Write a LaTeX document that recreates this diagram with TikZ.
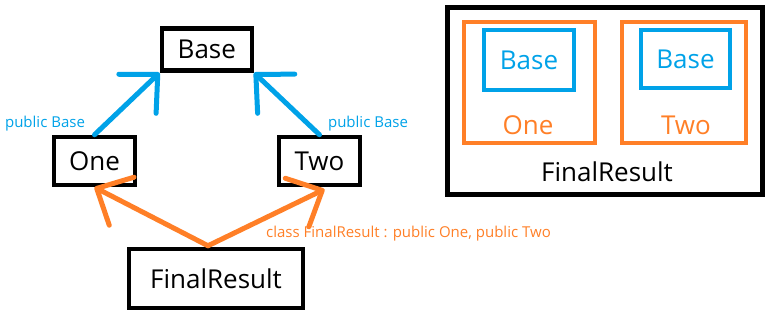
\documentclass[tikz,border=0pt]{standalone}
\usepackage{fontspec}
\setmainfont{Open Sans}
\usepackage{tikz}
\usepackage{xcolor}
\usetikzlibrary{arrows.meta, calc}

\definecolor{paintblue}{HTML}{00A2E8}
\definecolor{paintorange}{HTML}{FF7F27}

\newcommand{\bigtext}{\fontsize{26}{30}\selectfont}
\newcommand{\smalltext}{\fontsize{15}{18}\selectfont}

\begin{document}
\begin{tikzpicture}[x=1pt, y=-1pt, >={Straight Barb[length=28pt, width=54pt, round]},
    box/.style={draw, line width=4.5pt, inner sep=0pt, font=\bigtext},
    inherit/.style={->, line width=5pt, line cap=round}]
    \useasboundingbox (0,0) rectangle (771,316);

    % Class boxes
    \node[box, minimum width=90pt, minimum height=42pt] (base) at (206.8,49.5) {Base};
    \node[box, minimum width=81pt, minimum height=48pt] (one) at (94.5,161) {One};
    \node[box, minimum width=81pt, minimum height=48pt] (two) at (319.5,161) {Two};
    \node[box, minimum width=174pt, minimum height=59pt] (final) at (216,278.5) {FinalResult};

    % Inheritance from Base
    \draw[inherit, paintblue] (one.north) -- (base.south west);
    \draw[inherit, paintblue] (two.north) -- (base.south east);
    \node[text=paintblue, font=\smalltext, inner sep=0pt] (lblone) at (45,124) {public Base};
    \node[text=paintblue, font=\smalltext, inner sep=0pt] (lbltwo) at (368,124) {public Base};

    % Inheritance from One and Two
    \coordinate (fork) at ($(final.north)+(-8,-1)$);
    \draw[inherit, paintorange] (fork) -- (one.south);
    \draw[inherit, paintorange] (fork) -- ($(two.south)+(5,2)$);
    \node[text=paintorange, font=\smalltext, inner sep=0pt, anchor=west] (lblfinal) at (266,234)
        {class FinalResult : public One, public Two};

    % Memory layout
    \node[box, minimum width=315pt, minimum height=187pt] (layout) at (605,101) {};
    \node[box, draw=paintorange, minimum width=131pt, minimum height=121pt] (partone) at (529.5,82.5) {};
    \node[box, draw=paintblue, text=paintblue, minimum width=90pt, minimum height=60pt] (baseone) at (529,60) {Base};
    \node[text=paintorange, font=\bigtext, inner sep=0pt] (nameone) at (528,125) {One};
    \node[box, draw=paintorange, minimum width=124pt, minimum height=121pt] (parttwo) at (684,82.5) {};
    \node[box, draw=paintblue, text=paintblue, minimum width=89pt, minimum height=58pt] (basetwo) at (685.5,59) {Base};
    \node[text=paintorange, font=\bigtext, inner sep=0pt] (nametwo) at (686,125) {Two};
    \node[font=\bigtext, inner sep=0pt] (namefinal) at (607,172) {FinalResult};
\end{tikzpicture}
\end{document}
